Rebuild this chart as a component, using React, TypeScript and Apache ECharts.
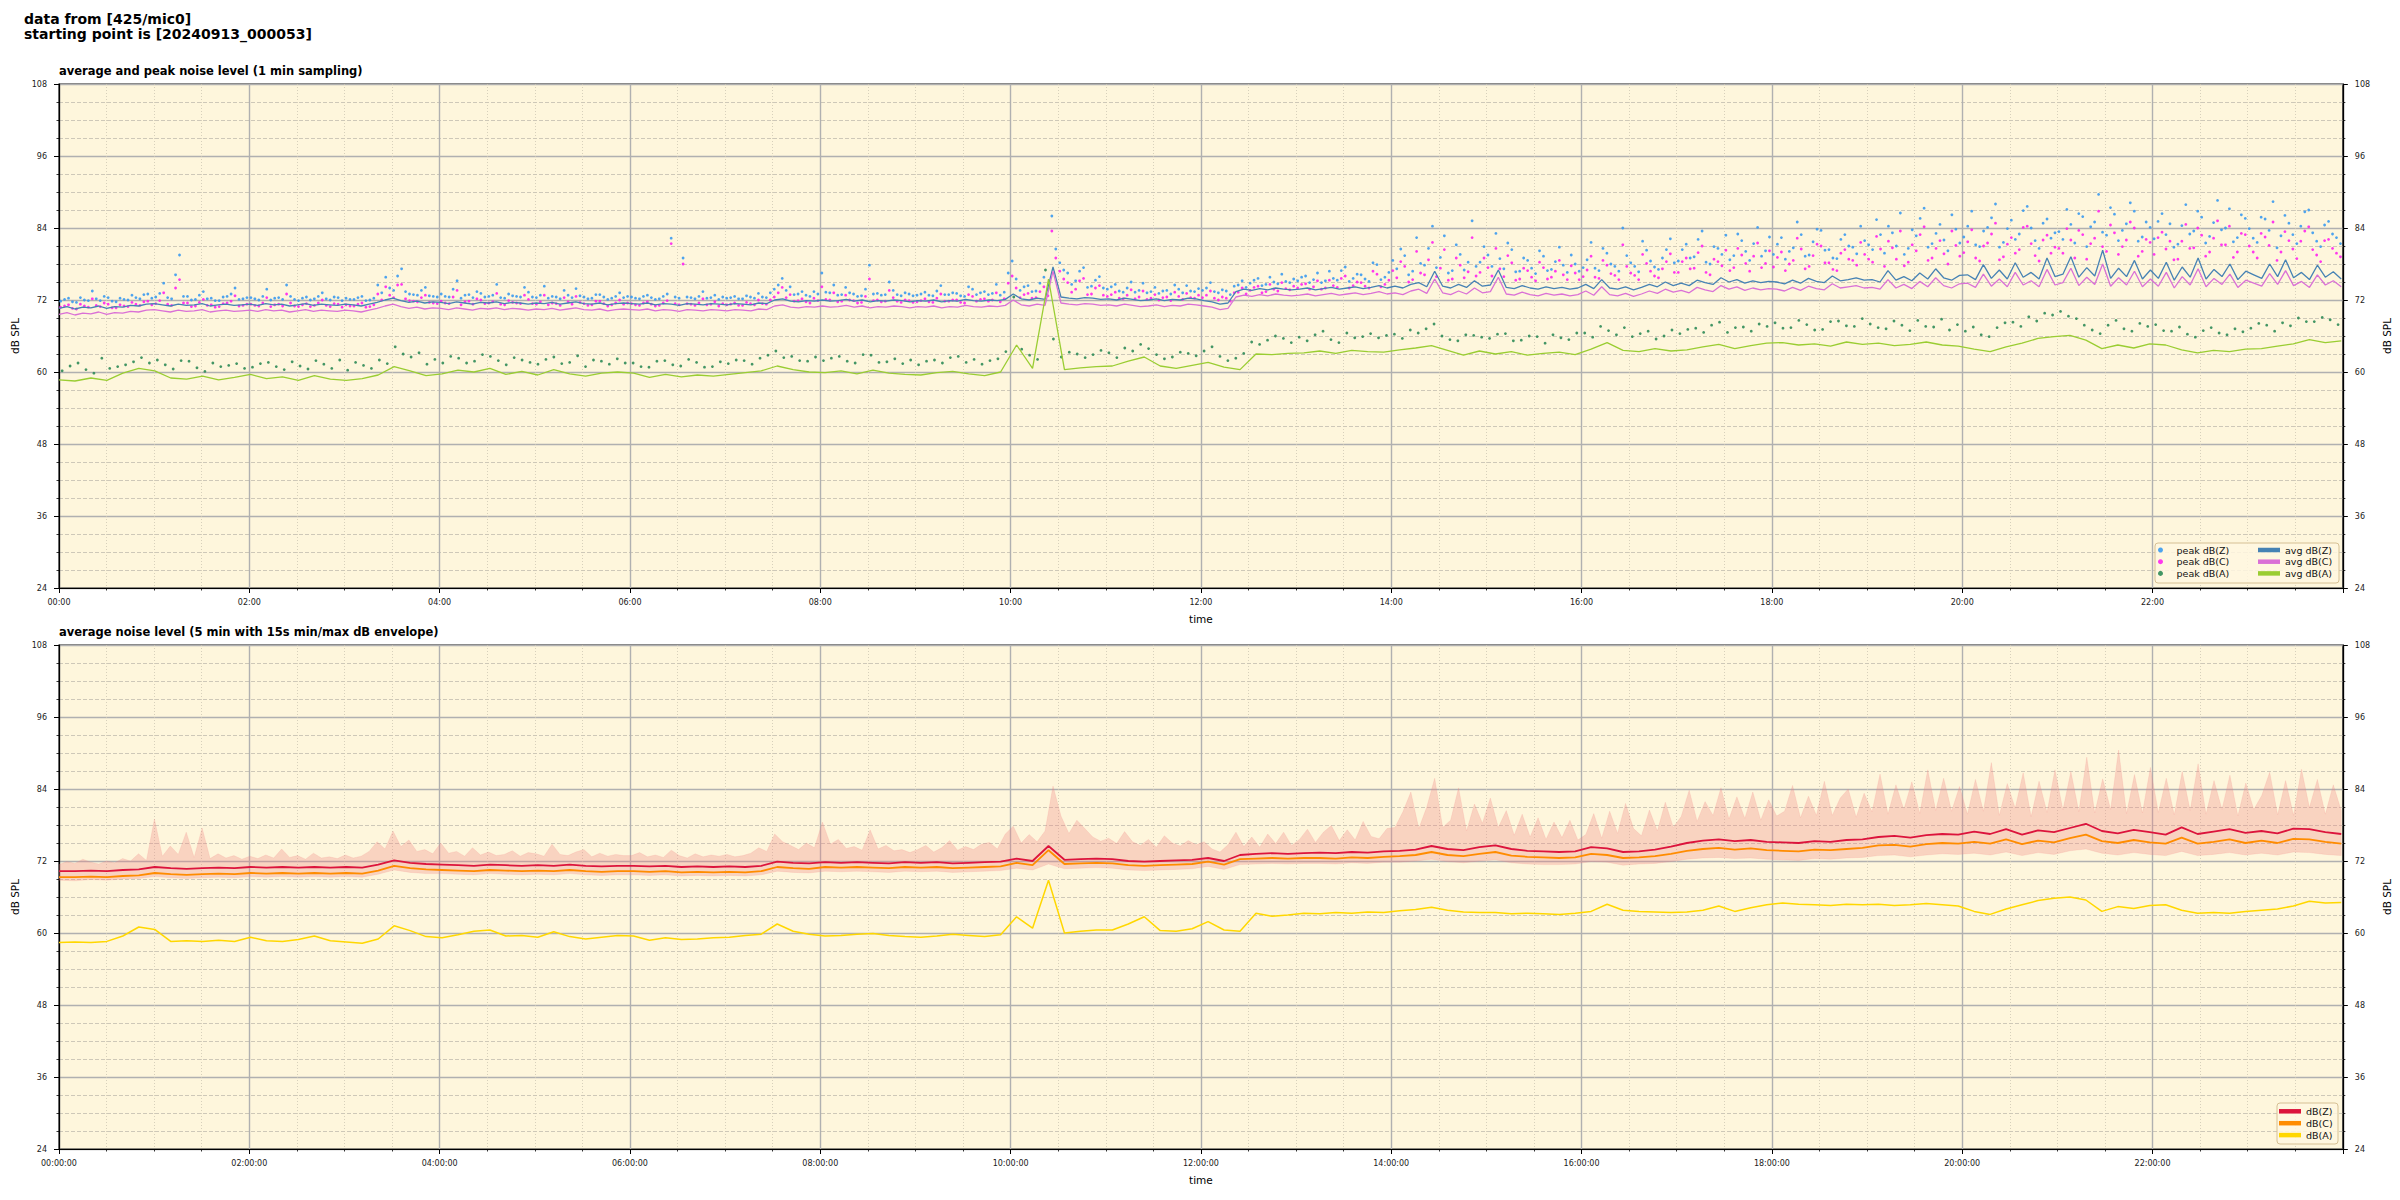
import React, { useEffect, useRef } from "react";
import * as echarts from "echarts";

// ---------- top chart (1 min sampling) ----------
const TOP_AVG_Z = [
  70.6,70.9,70.5,70.8,70.7,71.0,70.6,70.9,70.8,71.1,71.0,71.3,
  71.4,71.2,71.0,71.3,71.1,71.2,71.4,71.0,71.2,71.3,71.1,71.2,
  71.3,71.1,71.4,71.2,71.3,71.0,71.2,71.4,71.1,71.3,71.2,71.1,
  71.3,71.2,71.0,71.3,71.6,72.0,72.3,71.9,71.6,71.8,71.5,71.7,
  71.6,71.4,71.7,71.5,71.3,71.6,71.5,71.7,71.4,71.6,71.5,71.3,
  71.5,71.4,71.6,71.3,71.5,71.7,71.4,71.3,71.5,71.2,71.4,71.5,
  71.4,71.3,71.5,71.2,71.4,71.3,71.1,71.4,71.3,71.2,71.4,71.3,
  71.2,71.4,71.3,71.2,71.5,71.4,72.0,72.2,71.8,71.7,71.9,71.8,
  72.0,71.8,71.9,72.1,71.8,72.0,71.7,71.9,71.8,72.0,71.9,71.7,
  71.9,71.8,72.0,71.7,71.9,71.8,72.1,71.9,71.8,72.0,71.9,72.1,
  73.0,72.2,72.0,72.3,72.1,77.5,72.5,72.3,72.2,72.4,72.3,72.1,
  72.2,72.0,72.3,72.1,71.9,72.0,72.2,71.9,72.1,72.0,72.3,72.2,
  71.9,71.7,71.3,71.5,73.4,73.8,73.6,73.9,73.7,74.0,73.8,73.7,
  73.8,74.0,73.7,73.9,74.1,73.8,74.0,74.2,73.9,74.1,74.4,74.0,
  74.3,74.0,74.6,74.9,74.2,76.8,74.3,74.0,74.6,74.1,75.2,74.3,
  74.5,77.0,74.1,73.9,74.4,74.0,73.8,74.2,73.9,74.1,73.8,74.0,
  74.6,73.9,75.4,74.0,73.8,74.2,73.7,74.1,74.6,74.2,75.0,74.4,
  74.8,74.4,75.3,74.9,74.6,75.7,75.0,75.4,74.8,75.2,74.9,75.1,
  75.0,74.7,75.3,74.8,75.6,75.1,74.9,76.0,75.2,75.4,75.7,75.3,
  75.4,75.0,76.9,75.3,75.9,75.2,76.5,75.5,77.2,75.7,75.3,76.1,
  76.2,75.4,77.9,75.6,77.0,75.5,78.2,75.8,76.6,75.5,79.0,75.9,
  76.3,79.2,75.8,77.4,76.0,80.3,75.6,77.3,75.9,78.6,75.5,77.0,
  75.6,78.3,75.3,77.5,75.8,79.0,75.5,77.1,75.9,78.0,75.4,76.8,
  76.2,75.6,78.0,75.9,78.7,75.7,76.6,75.4,77.8,75.8,76.7,75.5,
];

const TOP_AVG_C = [
  69.6,69.9,69.5,69.8,69.7,70.0,69.6,69.9,69.8,70.1,70.0,70.3,
  70.4,70.2,70.0,70.3,70.1,70.2,70.4,70.0,70.2,70.3,70.1,70.2,
  70.3,70.1,70.4,70.2,70.3,70.0,70.2,70.4,70.1,70.3,70.2,70.1,
  70.3,70.2,70.0,70.3,70.6,71.0,71.3,70.9,70.6,70.8,70.5,70.7,
  70.6,70.4,70.7,70.5,70.3,70.6,70.5,70.7,70.4,70.6,70.5,70.3,
  70.5,70.4,70.6,70.3,70.5,70.7,70.4,70.3,70.5,70.2,70.4,70.5,
  70.4,70.3,70.5,70.2,70.4,70.3,70.1,70.4,70.3,70.2,70.4,70.3,
  70.2,70.4,70.3,70.2,70.5,70.4,71.0,71.2,70.8,70.7,70.9,70.8,
  71.0,70.8,70.9,71.1,70.8,71.0,70.7,70.9,70.8,71.0,70.9,70.7,
  70.9,70.8,71.0,70.7,70.9,70.8,71.1,70.9,70.8,71.0,70.9,71.1,
  72.0,71.2,71.0,71.3,71.1,76.8,71.5,71.3,71.2,71.4,71.3,71.1,
  71.2,71.0,71.3,71.1,70.9,71.0,71.2,70.9,71.1,71.0,71.3,71.2,
  71.0,70.8,70.4,70.6,72.5,72.8,72.6,72.9,72.7,73.0,72.8,72.7,
  72.8,73.0,72.7,72.9,73.1,72.8,73.0,73.2,72.9,73.1,73.4,73.0,
  73.2,72.9,73.5,73.8,73.1,75.5,73.2,72.9,73.5,73.0,74.0,73.2,
  73.4,75.8,73.0,72.8,73.3,72.9,72.7,73.1,72.8,73.0,72.7,72.9,
  73.5,72.8,74.2,72.9,72.7,73.1,72.6,73.0,73.5,73.1,73.8,73.3,
  73.6,73.2,74.1,73.7,73.4,74.4,73.8,74.2,73.6,74.0,73.7,73.9,
  73.8,73.5,74.1,73.6,74.3,73.9,73.7,74.7,74.0,74.2,74.4,74.0,
  74.1,73.8,75.4,74.0,74.6,73.9,75.1,74.2,75.7,74.4,74.0,74.7,
  74.8,74.1,76.3,74.3,75.5,74.2,76.6,74.5,75.2,74.2,77.1,74.5,
  74.9,77.3,74.4,75.8,74.6,78.0,74.3,75.7,74.5,76.8,74.2,75.5,
  74.3,76.6,74.0,75.9,74.5,77.2,74.2,75.6,74.6,76.3,74.1,75.3,
  74.8,74.3,76.4,74.6,76.9,74.4,75.1,74.1,76.2,74.5,75.2,74.2,
];

const TOP_AVG_A = [
  58.7,58.5,59.0,58.6,59.8,60.6,
  60.2,59.0,58.8,59.3,58.7,59.1,
  59.6,58.9,59.2,58.6,59.4,58.8,
  58.6,58.9,59.5,60.9,60.2,59.4,
  59.7,60.3,60.0,60.6,59.6,60.1,
  59.5,60.4,59.7,59.3,59.8,60.0,
  59.8,59.1,59.6,59.2,59.5,59.3,
  59.6,59.9,60.2,61.0,60.4,60.0,
  59.9,60.2,59.7,60.3,59.8,59.6,
  59.5,59.9,60.1,59.7,59.4,60.0,
  64.5,60.6,75.5,60.4,60.7,60.9,
  61.0,61.8,62.5,61.0,60.6,61.1,
  61.6,60.8,60.4,63.0,62.9,63.1,
  63.2,63.5,63.1,63.6,63.4,63.3,
  63.7,64.0,64.4,63.6,62.8,63.5,
  63.0,63.4,62.8,63.1,63.3,62.9,
  63.8,64.9,63.6,63.4,63.9,63.5,
  63.7,64.2,64.6,63.9,64.4,64.8,
  64.9,64.5,64.7,64.3,65.0,64.6,
  64.8,64.4,64.6,65.0,64.5,64.3,
  63.8,63.4,64.2,64.8,65.6,65.9,
  66.1,65.3,63.9,64.5,64.0,64.7,
  64.5,63.7,63.2,63.6,63.4,63.8,
  63.9,64.3,64.7,65.4,64.9,65.2,
];

// peak values: first and second reading of every 5 min (Z, C) / 10 min (A) window
const TOP_PEAK_Z = [
  71.8,72.3,71.6,72.0,73.5,71.9,72.4,71.7,72.1,72.8,72.2,73.0,
  72.5,74.8,72.2,79.5,72.6,72.1,73.4,72.3,71.9,72.6,74.0,72.2,
  72.4,72.0,73.8,72.3,72.1,72.6,71.9,72.5,72.2,73.2,72.0,72.4,
  72.3,72.1,72.6,72.0,74.5,75.8,73.6,77.2,73.0,72.8,74.1,72.6,
  73.0,72.5,75.2,72.8,72.4,73.1,72.6,74.6,72.3,72.7,72.5,73.3,
  72.4,74.3,72.6,72.2,72.8,73.9,72.5,72.3,72.9,72.1,72.6,72.4,
  72.5,72.2,72.8,72.1,72.6,82.3,72.3,72.5,72.2,73.4,72.4,72.1,
  72.3,72.6,72.2,72.5,73.1,72.4,73.8,75.6,74.2,73.0,72.8,73.4,
  76.5,73.2,72.8,74.1,73.0,72.7,77.8,73.1,72.9,73.6,72.7,73.0,
  72.8,73.3,72.7,74.4,72.9,73.1,72.6,73.8,73.2,72.9,74.6,73.3,
  78.5,73.6,74.4,73.5,75.8,86.0,78.2,76.5,75.2,77.4,74.3,75.9,
  73.8,74.6,73.3,75.0,73.6,73.2,74.1,73.5,73.0,73.8,74.4,73.4,
  73.6,74.9,73.2,73.5,74.3,75.2,74.8,75.6,74.6,75.0,76.3,74.9,
  75.2,76.0,75.4,74.9,76.8,75.3,77.5,75.6,76.2,75.1,77.9,75.8,
  78.6,80.5,76.2,82.4,77.8,84.3,79.1,76.5,81.2,77.0,85.2,78.3,
  79.5,83.1,77.2,80.4,76.8,78.6,76.4,79.3,77.1,80.8,76.6,78.0,
  77.4,81.6,76.9,79.8,77.6,84.0,78.2,76.7,80.3,77.5,79.0,82.2,
  78.5,81.3,79.2,83.5,78.0,80.6,82.8,79.4,81.9,78.6,84.1,80.2,
  79.6,82.4,80.1,85.0,79.3,81.7,83.6,80.4,78.9,82.9,80.8,84.3,
  81.2,85.4,79.8,83.2,86.5,80.6,82.7,87.3,81.4,84.6,80.2,83.8,
  82.5,86.8,80.9,84.1,88.0,81.6,85.3,83.0,87.6,81.9,84.8,82.3,
  83.4,87.1,81.5,85.9,84.2,89.6,82.8,86.3,83.6,88.2,81.8,85.0,
  82.2,86.4,84.7,81.3,87.9,83.5,85.8,82.6,88.6,84.0,81.7,86.2,
  83.9,81.6,85.5,88.4,82.7,84.8,81.4,86.7,83.2,80.9,85.1,82.4,
];

const TOP_PEAK_Z_2 = [
  72.1,71.7,72.4,71.9,72.2,72.6,71.8,72.3,72.0,72.4,72.9,72.3,
  73.1,72.4,76.2,72.6,72.0,72.8,72.2,71.9,72.5,73.0,72.1,72.4,
  72.2,72.6,72.0,72.4,74.5,72.1,72.3,72.0,72.6,72.2,72.5,71.9,
  72.1,72.4,71.9,72.3,73.2,74.0,76.0,73.4,72.9,73.6,72.7,72.5,
  72.6,73.8,72.3,72.9,73.4,72.5,72.8,72.4,73.0,72.6,74.1,72.5,
  72.8,72.3,72.5,73.6,72.4,72.7,72.2,72.9,72.5,72.3,73.2,72.6,
  72.3,72.6,72.4,72.2,73.0,72.5,79.0,72.4,72.6,72.3,72.8,72.5,
  72.4,72.2,72.7,72.3,72.5,73.2,74.5,73.6,72.9,73.4,72.6,73.0,
  73.3,74.5,72.9,73.2,72.6,73.8,73.0,72.8,75.0,72.9,73.2,72.7,
  73.0,72.8,73.5,72.9,73.2,72.7,74.2,72.9,73.4,73.1,72.8,76.5,
  75.5,74.2,73.4,74.8,73.9,80.5,77.0,74.6,76.8,74.1,75.3,74.0,
  74.2,73.5,74.0,73.3,74.8,73.4,73.1,73.6,74.5,73.2,73.5,73.9,
  74.0,73.4,73.7,72.9,74.5,74.1,75.3,74.4,75.8,74.7,75.1,75.5,
  75.8,74.9,76.5,75.2,75.6,76.9,75.1,76.3,75.5,78.2,75.4,76.6,
  77.2,79.4,76.8,78.1,80.6,77.4,82.7,76.9,79.6,78.3,77.6,80.9,
  77.6,78.9,81.5,76.7,79.0,77.3,80.2,76.9,78.4,77.8,79.5,76.8,
  78.7,77.3,80.6,78.0,76.8,79.4,77.6,81.8,78.5,77.1,80.4,78.2,
  80.4,79.0,82.1,78.3,80.9,79.6,78.7,83.0,80.1,81.4,79.3,82.5,
  81.3,78.8,80.7,82.9,79.5,83.8,80.3,79.0,82.1,81.0,79.7,81.9,
  80.4,82.9,84.3,81.0,79.6,83.7,85.6,80.8,83.1,82.0,86.2,81.5,
  84.3,81.2,83.5,85.7,80.8,83.9,82.1,86.9,84.0,80.6,85.5,83.2,
  82.1,84.6,86.4,80.9,85.0,83.3,87.4,81.9,84.7,86.8,82.5,84.1,
  85.1,82.9,80.8,84.4,83.0,86.8,81.5,84.9,83.7,87.2,82.4,85.6,
  82.3,85.8,83.6,80.7,86.1,82.9,84.3,87.0,81.8,84.5,83.0,81.4,
];

const TOP_PEAK_C = [
  70.8,71.2,70.5,71.0,72.2,70.9,71.3,70.7,71.0,71.6,71.1,71.8,
  71.4,73.2,71.1,75.4,71.5,71.0,72.1,71.2,70.9,71.5,72.7,71.1,
  71.3,71.0,72.4,71.2,71.0,71.5,70.9,71.4,71.1,72.0,70.9,71.3,
  71.2,71.0,71.5,70.9,73.0,74.2,72.4,74.6,71.9,71.7,72.8,71.5,
  71.8,71.4,73.6,71.7,71.3,72.0,71.5,73.1,71.2,71.6,71.4,72.1,
  71.3,72.8,71.5,71.1,71.7,72.6,71.4,71.2,71.8,71.0,71.5,71.3,
  71.4,71.1,71.7,71.0,71.5,81.4,71.2,71.4,71.1,72.2,71.3,71.0,
  71.2,71.5,71.1,71.4,72.0,71.3,72.5,74.1,72.9,71.9,71.7,72.3,
  74.2,72.0,71.7,72.8,71.9,71.6,75.5,72.0,71.8,72.4,71.6,71.9,
  71.7,72.2,71.6,73.0,71.8,72.0,71.5,72.6,72.1,71.8,73.2,72.2,
  76.0,72.4,73.1,72.4,74.2,83.5,76.8,74.9,73.8,75.6,73.0,74.4,
  72.6,73.3,72.2,73.7,72.5,72.1,72.9,72.4,71.9,72.6,73.1,72.3,
  72.4,73.5,72.0,72.3,73.2,74.0,73.6,74.3,73.4,73.8,74.9,73.7,
  74.0,74.7,74.2,73.8,75.3,74.1,76.0,74.4,74.9,74.0,76.3,74.6,
  76.9,78.4,75.0,80.1,76.2,81.6,77.3,75.3,79.0,75.7,82.4,76.6,
  77.4,80.6,75.9,78.2,75.5,76.9,75.2,77.4,75.8,78.6,75.4,76.5,
  75.9,79.3,75.6,77.8,76.1,81.2,76.5,75.4,78.1,76.0,77.2,79.7,
  76.6,79.0,77.3,81.0,76.2,78.4,80.3,77.4,79.5,76.8,81.5,78.1,
  77.5,80.0,78.0,82.3,77.2,79.4,81.0,78.2,76.9,80.4,78.6,81.6,
  78.8,82.6,77.6,80.7,83.5,78.3,80.2,84.2,79.0,81.9,78.0,81.1,
  79.9,83.7,78.5,81.5,84.8,79.2,82.4,80.4,84.3,79.4,82.0,79.8,
  80.6,83.9,79.0,82.9,81.4,86.8,80.1,83.2,80.9,85.0,79.3,82.1,
  79.6,83.3,81.8,78.8,84.6,80.7,82.8,80.0,85.2,81.2,79.1,83.1,
  81.0,79.0,82.5,85.0,80.0,81.9,78.9,83.5,80.4,78.4,82.1,79.8,
];

const TOP_PEAK_C_2 = [
  71.0,70.6,71.3,70.8,71.1,71.5,70.7,71.2,70.9,71.3,71.7,71.2,
  71.9,71.3,74.0,71.5,70.9,71.6,71.1,70.8,71.4,71.8,71.0,71.3,
  71.1,71.5,70.9,71.3,73.0,71.0,71.2,70.9,71.5,71.1,71.4,70.8,
  71.0,71.3,70.8,71.2,72.0,72.8,74.5,72.2,71.8,72.4,71.6,71.4,
  71.5,72.5,71.2,71.8,72.2,71.4,71.7,71.3,71.9,71.5,72.8,71.4,
  71.7,71.2,71.4,72.4,71.3,71.6,71.1,71.8,71.4,71.2,72.0,71.5,
  71.2,71.5,71.3,71.1,71.9,71.4,78.0,71.3,71.5,71.2,71.7,71.4,
  71.3,71.1,71.6,71.2,71.4,72.0,73.2,72.4,71.8,72.2,71.5,71.9,
  72.1,73.2,71.8,72.0,71.5,72.6,71.9,71.7,73.6,71.8,72.0,71.6,
  71.9,71.7,72.3,71.8,72.0,71.6,72.9,71.8,72.2,72.0,71.7,74.8,
  74.0,72.9,72.3,73.4,72.7,79.0,75.5,73.3,75.2,72.9,74.0,72.8,
  72.9,72.3,72.8,72.2,73.5,72.3,72.0,72.5,73.3,72.1,72.4,72.8,
  72.8,72.3,72.5,71.8,73.3,73.0,74.1,73.2,74.6,73.5,73.9,74.3,
  74.6,73.8,75.2,74.0,74.4,75.6,74.0,75.0,74.3,76.8,74.2,75.3,
  75.7,77.6,75.4,76.5,78.7,75.9,80.4,75.5,77.8,76.7,76.0,79.0,
  76.0,77.2,79.4,75.3,77.3,75.8,78.3,75.5,76.8,76.2,77.7,75.4,
  77.0,75.8,78.6,76.4,75.4,77.6,76.1,79.6,76.8,75.7,78.4,76.6,
  78.4,77.2,79.9,76.6,78.8,77.7,76.9,80.6,78.1,79.3,77.4,80.2,
  79.1,76.9,78.6,80.5,77.6,81.3,78.2,77.1,79.8,78.8,77.8,79.6,
  78.3,80.5,81.8,78.8,77.7,81.2,82.9,78.6,80.6,79.7,83.5,79.3,
  81.7,79.0,81.0,83.0,78.7,81.3,79.8,84.1,81.4,78.5,82.8,80.8,
  79.8,82.0,83.6,78.8,82.3,80.9,84.5,79.6,82.0,84.0,80.1,81.6,
  82.4,80.5,78.7,81.8,80.6,84.0,79.3,82.3,81.2,84.3,80.0,82.9,
  80.0,83.1,81.1,78.6,83.4,80.5,81.8,84.2,79.5,81.9,80.6,79.2,
];

const TOP_PEAK_A = [
  60.2,61.5,59.8,60.6,61.2,62.4,
  62.0,60.5,61.8,60.1,60.9,61.4,
  60.8,61.6,60.4,61.0,61.9,60.6,
  60.3,61.1,62.0,64.2,62.5,61.3,
  61.5,62.3,61.8,62.6,61.2,62.0,
  61.3,62.5,61.6,60.9,61.8,62.2,
  61.5,60.8,61.9,61.0,61.6,60.9,
  61.4,61.9,62.3,63.5,62.6,61.8,
  61.9,62.6,61.5,62.8,61.7,61.4,
  61.2,62.0,62.4,61.6,61.3,62.2,
  72.5,62.8,77.0,62.5,63.0,62.9,
  63.2,64.0,64.6,62.9,62.5,63.1,
  63.5,62.6,62.3,65.0,65.3,65.6,
  65.8,66.2,65.4,66.5,65.9,65.7,
  66.3,67.0,67.2,66.0,65.2,66.1,
  65.6,66.4,65.3,65.9,66.2,65.4,
  66.5,67.6,66.2,65.9,66.8,66.0,
  66.4,67.3,67.8,66.6,67.5,68.0,
  68.2,67.4,67.9,67.1,68.5,67.6,
  68.0,67.2,67.8,68.6,67.5,67.0,
  66.8,66.2,67.4,68.3,69.2,69.8,
  70.1,68.9,67.0,67.8,67.2,68.1,
  67.9,66.8,66.3,66.9,66.5,67.2,
  67.3,67.8,68.2,69.0,68.4,68.7,
];

const TOP_PEAK_A_2 = [
  61.0,60.4,62.3,60.9,61.7,61.5,
  61.2,61.9,60.7,61.5,61.1,60.6,
  61.4,60.9,61.7,60.5,61.3,62.0,
  61.6,60.6,61.4,63.0,63.2,62.1,
  62.6,61.5,62.9,61.9,62.4,61.6,
  62.1,61.4,62.7,62.0,61.3,61.5,
  60.9,61.8,61.2,62.1,60.8,61.7,
  62.0,61.3,62.8,62.4,61.9,62.5,
  62.3,61.8,62.9,61.6,62.2,62.0,
  61.8,61.5,62.6,62.1,61.9,63.4,
  63.8,62.1,65.5,63.3,62.4,63.6,
  62.4,63.5,63.9,62.2,63.3,62.7,
  64.2,61.9,63.1,64.6,66.0,64.9,
  65.2,66.8,64.9,65.7,66.4,66.1,
  65.6,66.5,68.0,65.4,66.2,65.8,
  66.3,65.2,66.0,64.8,65.7,66.5,
  65.8,66.9,67.4,66.4,65.5,67.0,
  67.1,66.6,68.3,67.4,66.8,67.6,
  67.3,68.6,67.0,68.4,67.7,68.9,
  67.4,68.5,66.9,67.6,68.8,67.9,
  67.5,65.9,68.2,67.6,68.5,69.5,
  69.3,67.8,66.4,68.6,66.8,67.6,
  66.9,67.5,65.8,67.4,66.2,66.7,
  68.1,66.8,67.7,68.4,69.1,67.9,
];

// ---------- bottom chart (5 min averages) ----------
const BOT_Z = [
  70.3,70.3,70.4,70.3,70.5,70.6,
  71.0,70.8,70.7,70.8,70.9,70.8,
  71.0,70.9,71.0,70.9,71.0,70.9,
  71.0,70.9,71.4,72.1,71.7,71.5,
  71.4,71.3,71.2,71.4,71.3,71.2,
  71.3,71.2,71.4,71.2,71.1,71.2,
  71.2,71.1,71.2,71.0,71.1,71.0,
  71.1,71.0,71.2,71.9,71.7,71.6,
  71.8,71.7,71.8,71.7,71.6,71.8,
  71.7,71.8,71.6,71.7,71.8,71.9,
  72.4,72.0,74.5,72.2,72.3,72.4,
  72.3,72.0,71.9,72.0,72.1,72.2,
  72.5,72.0,73.0,73.2,73.3,73.2,
  73.3,73.4,73.3,73.5,73.4,73.6,
  73.7,73.9,74.5,74.0,73.8,74.3,
  74.6,74.0,73.7,73.6,73.5,73.6,
  74.3,74.1,73.5,73.6,73.9,74.4,
  75.0,75.4,75.6,75.3,75.5,75.2,
  75.1,75.0,75.3,75.2,75.5,75.6,
  76.0,76.2,75.9,76.3,76.5,76.4,
  76.9,76.5,77.3,76.4,77.1,76.8,
  77.5,78.2,77.0,76.6,77.2,76.8,
  76.4,77.6,76.5,76.9,77.3,76.7,
  77.0,76.6,77.4,77.3,76.8,76.5,
];

const BOT_C = [
  69.3,69.3,69.4,69.3,69.5,69.6,
  70.0,69.8,69.7,69.8,69.9,69.8,
  70.0,69.9,70.0,69.9,70.0,69.9,
  70.0,69.9,70.4,71.2,70.8,70.6,
  70.5,70.4,70.3,70.5,70.4,70.3,
  70.4,70.3,70.5,70.3,70.2,70.3,
  70.3,70.2,70.3,70.1,70.2,70.1,
  70.2,70.1,70.3,71.0,70.8,70.7,
  71.0,70.9,71.0,70.9,70.8,71.0,
  70.9,71.0,70.8,70.9,71.0,71.1,
  71.7,71.3,73.8,71.5,71.6,71.7,
  71.6,71.3,71.2,71.3,71.4,71.5,
  71.9,71.4,72.3,72.4,72.5,72.4,
  72.5,72.5,72.4,72.6,72.5,72.7,
  72.8,73.0,73.5,73.0,72.8,73.2,
  73.5,72.9,72.7,72.6,72.5,72.6,
  73.2,73.0,72.5,72.6,72.8,73.2,
  73.7,74.0,74.2,73.9,74.1,73.8,
  73.7,73.6,73.9,73.8,74.0,74.2,
  74.6,74.7,74.4,74.8,75.0,74.9,
  75.2,74.9,75.6,74.8,75.4,75.1,
  75.8,76.4,75.3,75.0,75.5,75.1,
  74.9,75.9,74.9,75.2,75.6,75.0,
  75.4,75.0,75.7,75.6,75.2,74.9,
];

const BOT_A = [
  58.4,58.5,58.4,58.6,59.5,61.0,
  60.6,58.6,58.7,58.6,58.8,58.6,
  59.3,58.7,58.6,58.9,59.5,58.7,
  58.5,58.3,59.0,61.2,60.4,59.4,
  59.2,59.7,60.3,60.5,59.5,59.6,
  59.3,60.2,59.4,59.0,59.3,59.6,
  59.5,58.8,59.2,58.9,59.0,59.2,
  59.3,59.6,59.8,61.5,60.3,59.8,
  59.5,59.6,59.8,59.9,59.6,59.4,
  59.3,59.5,59.8,59.6,59.4,59.7,
  62.7,60.8,68.8,60.0,60.3,60.5,
  60.5,61.5,62.7,60.4,60.3,60.7,
  61.9,60.5,60.3,63.3,62.8,63.0,
  63.3,63.2,63.4,63.3,63.5,63.4,
  63.7,63.9,64.3,63.8,63.5,63.4,
  63.4,63.2,63.3,63.2,63.1,63.3,
  63.6,64.8,63.8,63.6,63.5,63.4,
  63.5,63.8,64.5,63.6,64.2,64.7,
  65.0,64.8,64.7,64.6,64.8,64.7,
  64.8,64.6,64.7,64.9,64.7,64.5,
  63.6,63.1,64.0,64.7,65.4,65.8,
  66.0,65.5,63.6,64.4,64.1,64.6,
  64.7,63.8,63.3,63.4,63.3,63.6,
  63.8,64.0,64.5,65.3,65.0,65.1,
];

// 15 s max envelope (5 min resolution here) and min envelope (10 min resolution)
const ENV_MAX = [
  71.4,71.9,71.6,72.3,71.8,71.5,72.0,71.7,72.4,72.0,73.2,72.1,
  79.0,72.8,74.5,73.1,76.8,72.6,77.5,72.4,73.2,72.5,72.9,72.3,
  72.8,72.4,73.0,72.5,74.0,72.6,72.9,72.3,73.3,72.5,72.7,72.4,
  73.0,72.5,72.8,73.6,75.2,74.0,77.0,74.4,75.5,73.6,73.9,73.2,
  75.0,73.3,73.6,72.8,74.2,73.0,73.5,72.9,73.1,73.7,72.8,73.4,
  73.2,72.8,74.8,73.1,72.9,73.5,73.9,72.7,73.3,72.8,73.1,72.9,
  72.9,73.4,72.7,73.0,72.6,73.8,72.9,72.5,73.2,72.7,73.0,72.8,
  73.1,72.7,72.9,73.3,74.2,73.6,76.5,75.2,74.6,73.9,75.0,74.2,
  78.5,74.8,75.6,74.1,74.4,73.8,77.2,74.0,74.6,73.7,73.9,73.4,
  73.9,74.6,73.5,74.2,75.4,73.8,74.4,73.9,74.8,75.1,74.0,76.5,
  77.8,75.0,76.4,75.2,77.0,84.5,79.5,76.6,78.8,77.4,76.0,75.3,
  75.8,74.9,76.9,75.2,74.6,75.6,74.3,76.2,75.0,74.5,75.4,74.7,
  75.2,74.0,73.5,74.7,76.8,74.4,76.0,74.3,76.5,74.9,76.8,74.6,
  75.6,77.3,75.1,76.8,77.9,75.4,77.2,75.5,78.6,76.1,75.7,77.4,
  77.6,80.2,83.5,77.4,81.0,85.8,77.6,78.8,84.2,77.0,81.5,78.3,
  82.5,77.6,80.4,76.3,79.8,76.0,79.2,75.6,78.5,75.9,78.8,75.5,
  76.4,79.9,75.8,80.3,76.6,81.6,77.4,76.2,80.5,77.0,81.8,77.6,
  79.4,83.8,78.6,81.9,79.6,84.2,79.0,82.7,79.1,83.5,78.8,82.2,
  79.5,80.3,84.6,79.2,82.8,79.6,85.3,79.6,82.5,84.0,79.3,83.3,
  80.2,86.5,79.8,84.7,80.6,85.2,79.9,87.2,80.4,85.8,80.3,84.4,
  79.8,85.6,80.3,88.4,79.6,84.9,80.8,86.7,79.4,85.3,80.1,87.2,
  80.5,86.9,80.2,89.3,80.0,85.7,80.6,90.5,79.9,86.4,80.0,87.6,
  80.1,85.8,79.7,86.9,80.4,88.2,79.8,85.4,80.6,86.3,79.5,85.0,
  80.6,82.9,86.8,79.7,85.4,79.6,87.3,80.9,85.6,79.8,84.7,80.4,
];

const ENV_MIN = [
  68.8,68.7,68.9,68.8,69.0,69.1,
  69.4,69.2,69.1,69.2,69.3,69.2,
  69.4,69.3,69.4,69.3,69.4,69.3,
  69.4,69.3,69.8,70.5,70.1,69.9,
  69.9,69.8,69.7,69.9,69.8,69.7,
  69.8,69.7,69.9,69.7,69.6,69.7,
  69.7,69.6,69.7,69.5,69.6,69.5,
  69.6,69.5,69.7,70.3,70.1,70.0,
  70.3,70.2,70.3,70.2,70.1,70.3,
  70.2,70.3,70.1,70.2,70.3,70.4,
  70.8,70.5,71.5,70.7,70.8,70.9,
  70.8,70.5,70.4,70.5,70.6,70.7,
  71.1,70.6,71.4,71.5,71.6,71.5,
  71.6,71.6,71.5,71.7,71.6,71.8,
  71.8,72.0,72.3,71.9,71.7,72.0,
  72.2,71.7,71.5,71.4,71.4,71.5,
  71.9,71.8,71.3,71.5,71.6,71.9,
  72.3,72.5,72.6,72.4,72.5,72.3,
  72.2,72.1,72.4,72.3,72.5,72.6,
  72.9,73.0,72.7,73.0,73.2,73.1,
  73.3,73.0,73.5,72.9,73.4,73.1,
  73.7,74.0,73.3,73.0,73.4,73.1,
  72.9,73.6,72.9,73.1,73.4,73.0,
  73.3,73.0,73.5,73.4,73.1,72.9,
];

const Y_MIN = 24;
const Y_MAX = 108;
const Y_STEP = 12;
const X_MAX_MIN = 1440;
const X_STEP_MIN = 120;

// ---------- helpers ----------
const FONT = "DejaVu Sans";
const pad = (n: number) => String(n).padStart(2, "0");
const fmtHM = (v: number) => `${pad(Math.floor(v / 60))}:${pad(Math.round(v % 60))}`;
const fmtHMS = (v: number) => `${fmtHM(v)}:00`;
const xOf = (i: number, n: number) => (i * (X_MAX_MIN - 1)) / (n - 1);
const toXY = (arr: number[]) => arr.map((v, i) => [xOf(i, arr.length), v]);
const toXYAt = (arr: number[], offsetFrac: number) => {
  const step = X_MAX_MIN / arr.length;
  return arr.map((v, i) => [i * step + offsetFrac * step, v]);
};

const GRID_L = 59;
const GRID_W = 2284;
const GRID_H = 504;
const TOP1 = 84;
const TOP2 = 645;

function makeX(gridIndex: number, fmt: (v: number) => string) {
  return {
    type: "value",
    gridIndex,
    min: 0,
    max: X_MAX_MIN,
    interval: X_STEP_MIN,
    name: "time",
    nameLocation: "middle",
    nameGap: 25,
    nameTextStyle: { fontSize: 10.5, color: "#000", fontFamily: FONT },
    axisLine: { show: true, onZero: false, lineStyle: { color: "#000", width: 1.2 } },
    axisTick: { show: true, inside: false, length: 5, lineStyle: { color: "#000", width: 1 } },
    minorTick: { show: true, splitNumber: 4, length: 2.5, lineStyle: { color: "#000", width: 0.8 } },
    axisLabel: {
      formatter: fmt,
      fontSize: 8,
      color: "#1a1a1a",
      margin: 10,
      showMaxLabel: false,
      fontFamily: FONT,
    },
    splitLine: { show: true, lineStyle: { color: "#b0b0b0", width: 1.4 } },
    minorSplitLine: { show: true, lineStyle: { color: "#cdc6b2", width: 0.8, type: [1, 2] } },
  };
}

function makeY(gridIndex: number, position: "left" | "right") {
  const left = position === "left";
  return {
    type: "value",
    gridIndex,
    position,
    min: Y_MIN,
    max: Y_MAX,
    interval: Y_STEP,
    name: "dB SPL",
    nameLocation: "middle",
    nameRotate: 90,
    nameGap: 34,
    nameTextStyle: { fontSize: 10.5, color: "#000", fontFamily: FONT },
    axisLine: { show: true, onZero: false, lineStyle: { color: "#000", width: 1.2 } },
    axisTick: { show: true, inside: false, length: 5, lineStyle: { color: "#000", width: 1 } },
    minorTick: { show: true, splitNumber: 4, length: 2.5, lineStyle: { color: "#000", width: 0.8 } },
    axisLabel: { fontSize: 8, color: "#1a1a1a", margin: 12, fontFamily: FONT },
    splitLine: { show: left, lineStyle: { color: "#b0b0b0", width: 1.4 } },
    minorSplitLine: { show: left, lineStyle: { color: "#c2bcae", width: 0.8, type: [4, 2] } },
  };
}

const line = (name: string, data: number[], color: string, width: number, xi: number, yi: number, z = 3) => ({
  name,
  type: "line",
  xAxisIndex: xi,
  yAxisIndex: yi,
  data: toXY(data),
  showSymbol: false,
  symbol: "none",
  lineStyle: { color, width },
  itemStyle: { color },
  z,
  silent: true,
});

const scatter = (name: string, a: number[], b: number[], color: string) => ({
  name,
  type: "scatter",
  xAxisIndex: 0,
  yAxisIndex: 0,
  data: [...toXYAt(a, 0.2), ...toXYAt(b, 0.7)],
  symbol: "circle",
  symbolSize: 2.8,
  itemStyle: { color, opacity: 0.9 },
  z: 2,
  silent: true,
});

const legendText = { fontSize: 9.5, color: "#111", fontFamily: FONT, lineHeight: 11 };

const envelopeSeries = {
  name: "envelope",
  type: "custom",
  xAxisIndex: 1,
  yAxisIndex: 2,
  data: [[X_MAX_MIN / 2, ENV_MIN[0]]],
  clip: true,
  silent: true,
  z: 2,
  renderItem: (_params: any, api: any) => {
    const pts: number[][] = [];
    ENV_MAX.forEach((v, i) => pts.push(api.coord([xOf(i, ENV_MAX.length), v])));
    for (let i = ENV_MIN.length - 1; i >= 0; i--) pts.push(api.coord([xOf(i, ENV_MIN.length), ENV_MIN[i]]));
    return {
      type: "polygon",
      shape: { points: pts },
      style: { fill: "rgba(240,128,128,0.3)", stroke: "rgba(240,128,128,0.25)", lineWidth: 0.6 },
    };
  },
};

const option = {
  animation: false,
  backgroundColor: "#ffffff",
  textStyle: { fontFamily: FONT },
  title: [
    {
      text: "data from [425/mic0]\nstarting point is [20240913_000053]",
      left: 24,
      top: 11.5,
      padding: 0,
      textStyle: { fontSize: 14, fontWeight: "bold", color: "#000", lineHeight: 15, fontFamily: FONT },
    },
    {
      text: "average and peak noise level (1 min sampling)",
      left: GRID_L,
      top: 63.5,
      padding: 0,
      textStyle: { fontSize: 11.5, fontWeight: "bold", color: "#000", lineHeight: 14, fontFamily: FONT },
    },
    {
      text: "average noise level (5 min with 15s min/max dB envelope)",
      left: GRID_L,
      top: 625,
      padding: 0,
      textStyle: { fontSize: 11.5, fontWeight: "bold", color: "#000", lineHeight: 14, fontFamily: FONT },
    },
  ],
  grid: [
    { left: GRID_L, top: TOP1, width: GRID_W, height: GRID_H, show: true, backgroundColor: "#fef6dc", borderColor: "#000", borderWidth: 1.2, containLabel: false },
    { left: GRID_L, top: TOP2, width: GRID_W, height: GRID_H, show: true, backgroundColor: "#fef6dc", borderColor: "#000", borderWidth: 1.2, containLabel: false },
  ],
  xAxis: [makeX(0, fmtHM), makeX(1, fmtHMS)],
  yAxis: [makeY(0, "left"), makeY(0, "right"), makeY(1, "left"), makeY(1, "right")],
  legend: [
    {
      data: [
        { name: "peak dB(Z)", icon: "circle" },
        { name: "peak dB(C)", icon: "circle" },
        { name: "peak dB(A)", icon: "circle" },
      ],
      orient: "vertical",
      left: 2158,
      top: 544.5,
      padding: 0,
      itemWidth: 22,
      itemHeight: 5,
      itemGap: 0.7,
      selectedMode: false,
      textStyle: legendText,
      z: 6,
    },
    {
      data: [
        { name: "avg dB(Z)", icon: "rect" },
        { name: "avg dB(C)", icon: "rect" },
        { name: "avg dB(A)", icon: "rect" },
      ],
      orient: "vertical",
      left: 2258,
      top: 544.5,
      padding: 0,
      itemWidth: 22,
      itemHeight: 4.5,
      itemGap: 0.7,
      selectedMode: false,
      textStyle: legendText,
      z: 6,
    },
    {
      data: [
        { name: "dB(Z)", icon: "rect" },
        { name: "dB(C)", icon: "rect" },
        { name: "dB(A)", icon: "rect" },
      ],
      orient: "vertical",
      left: 2279,
      top: 1105.8,
      padding: 0,
      itemWidth: 22,
      itemHeight: 4.5,
      itemGap: 0.9,
      selectedMode: false,
      textStyle: legendText,
      z: 6,
    },
  ],
  graphic: [
    {
      type: "rect",
      z: 5,
      shape: { x: 2155, y: 543, width: 184, height: 40, r: 3 },
      style: { fill: "rgba(255,247,224,0.85)", stroke: "#d6c094", lineWidth: 1 },
      silent: true,
    },
    {
      type: "rect",
      z: 5,
      shape: { x: 2277, y: 1103, width: 61, height: 41, r: 3 },
      style: { fill: "rgba(255,247,224,0.85)", stroke: "#d6c094", lineWidth: 1 },
      silent: true,
    },
  ],
  series: [
    scatter("peak dB(Z)", TOP_PEAK_Z, TOP_PEAK_Z_2, "#3a9af0"),
    scatter("peak dB(C)", TOP_PEAK_C, TOP_PEAK_C_2, "#ff22ee"),
    scatter("peak dB(A)", TOP_PEAK_A, TOP_PEAK_A_2, "#2e8b57"),
    line("avg dB(Z)", TOP_AVG_Z, "#4682b4", 1.3, 0, 0, 3),
    line("avg dB(C)", TOP_AVG_C, "#da70d6", 1.3, 0, 0, 3),
    line("avg dB(A)", TOP_AVG_A, "#9acd32", 1.3, 0, 0, 3),
    envelopeSeries,
    line("dB(Z)", BOT_Z, "#dc143c", 1.8, 1, 2, 4),
    line("dB(C)", BOT_C, "#ff8c00", 1.8, 1, 2, 4),
    line("dB(A)", BOT_A, "#ffd700", 1.5, 1, 2, 4),
  ],
};

export default function App() {
  const ref = useRef<HTMLDivElement>(null);
  useEffect(() => {
    if (!ref.current) return;
    const chart = echarts.init(ref.current, null, { renderer: "svg" });
    chart.setOption(option as any);
    return () => chart.dispose();
  }, []);
  return (
    <div
      ref={ref}
      style={{ position: "fixed", left: 0, top: 0, width: 2400, height: 1200, background: "#fff" }}
    />
  );
}
